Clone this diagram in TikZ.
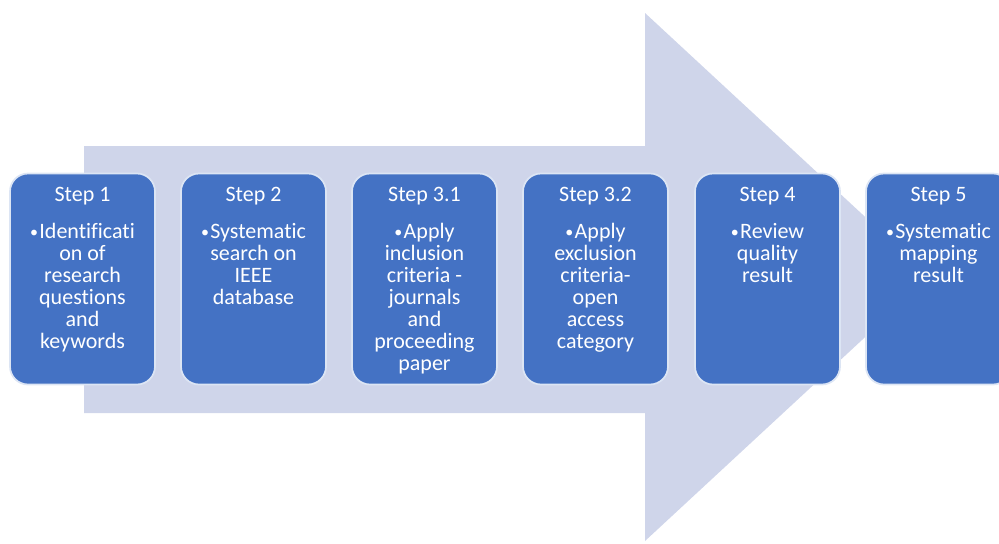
\documentclass[tikz,border=0pt]{standalone}
\usepackage{fontspec}
\setmainfont[Ligatures=NoCommon]{Carlito}
\definecolor{boxblue}{HTML}{4472C4}
\definecolor{arrowfill}{HTML}{CFD5EA}
\definecolor{boxline}{HTML}{DCE5F4}
\newcommand{\stepbul}{\raisebox{0.5pt}{\fontsize{12}{12}\selectfont•}\kern1pt}
\begin{document}
\begin{tikzpicture}[x=0.75pt,y=-0.75pt,
  stepbox/.style={draw=boxline, line width=1.3pt, fill=boxblue, rounded corners=13.5pt,
    minimum width=108.75pt, minimum height=158.25pt, inner sep=0pt},
  steptitle/.style={text=white, inner sep=0pt, font=\fontsize{16.5}{16.6}\selectfont},
  stepbody/.style={text=white, inner sep=0pt, align=center, anchor=north,
    font=\fontsize{16.5}{16.6}\selectfont}]
\useasboundingbox (0,0) rectangle (999,543);
\clip (0,0) rectangle (999,543);
\fill[arrowfill] (84,146) -- (645,146) -- (645,13) -- (930,277) -- (645,541) -- (645,413) -- (84,413) -- cycle;

\node[stepbox] (b1) at (82.5,279) {};
\node[stepbox] (b2) at (253.5,279) {};
\node[stepbox] (b3) at (424.5,279) {};
\node[stepbox] (b4) at (595.5,279) {};
\node[stepbox] (b5) at (767.5,279) {};
\node[stepbox] (b6) at (938.5,279) {};

\node[steptitle] (h1) at ([yshift=-17.5pt]b1.north) {Step 1};
\node[steptitle] (h2) at ([yshift=-17.5pt]b2.north) {Step 2};
\node[steptitle] (h3) at ([yshift=-17.5pt]b3.north) {Step 3.1};
\node[steptitle] (h4) at ([yshift=-17.5pt]b4.north) {Step 3.2};
\node[steptitle] (h5) at ([yshift=-17.5pt]b5.north) {Step 4};
\node[steptitle] (h6) at ([yshift=-17.5pt]b6.north) {Step 5};

\node[stepbody] (t1) at ([yshift=-37.5pt]b1.north) {\stepbul Identificati\\on of\\research\\questions\\and\\keywords};
\node[stepbody] (t2) at ([yshift=-37.5pt]b2.north) {\stepbul Systematic\\search on\\IEEE\\database};
\node[stepbody] (t3) at ([yshift=-37.5pt]b3.north) {\stepbul Apply\\inclusion\\criteria -\\journals\\and\\proceeding\\paper};
\node[stepbody] (t4) at ([yshift=-37.5pt]b4.north) {\stepbul Apply\\exclusion\\criteria-\\open\\access\\category};
\node[stepbody] (t5) at ([yshift=-37.5pt]b5.north) {\stepbul Review\\quality\\result};
\node[stepbody] (t6) at ([yshift=-37.5pt]b6.north) {\stepbul Systematic\\mapping\\result};
\end{tikzpicture}
\end{document}
